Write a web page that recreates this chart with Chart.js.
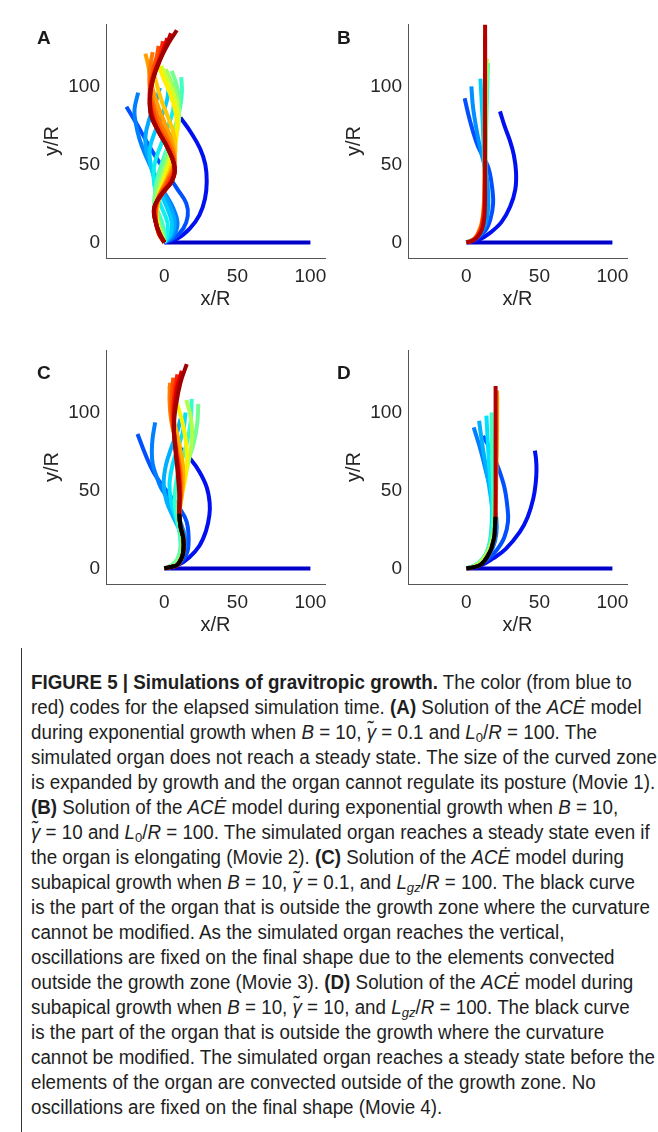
<!DOCTYPE html>
<html><head><meta charset="utf-8">
<script src="https://cdn.jsdelivr.net/npm/chart.js@4.4.1/dist/chart.umd.min.js"></script>
<style>
html,body{margin:0;padding:0;background:#fff;}
body{width:658px;height:1132px;position:relative;overflow:hidden;font-family:"Liberation Sans",Arimo,Arial,sans-serif;color:#1a1a1a;}
.panel{position:absolute;width:345px;height:320px;}
.lbl{position:absolute;font-weight:bold;font-size:19px;line-height:22px;color:#1a1a1a;}
#bar{position:absolute;left:21px;top:648px;width:1px;height:484px;background:#333;}
#cap{position:absolute;left:31px;top:670px;transform-origin:0 0;font-size:19.5px;color:#1e1e1e;}
#cap .ln{height:25px;line-height:25px;white-space:nowrap;}
#cap .ln span{display:inline-block;}
sub{font-size:70%;vertical-align:-0.25em;line-height:0;}
</style>
</head><body>
<div class="panel" style="left:0;top:0"><canvas id="cA" width="345" height="320"></canvas></div>
<div class="panel" style="left:302px;top:0"><canvas id="cB" width="345" height="320"></canvas></div>
<div class="panel" style="left:0;top:326px"><canvas id="cC" width="345" height="320"></canvas></div>
<div class="panel" style="left:302px;top:326px"><canvas id="cD" width="345" height="320"></canvas></div>
<div class="lbl" style="left:37px;top:27px">A</div>
<div class="lbl" style="left:337px;top:27px">B</div>
<div class="lbl" style="left:37px;top:362px">C</div>
<div class="lbl" style="left:337px;top:362px">D</div>
<div id="bar"></div>
<div id="cap">
<div class="ln"><span><b>FIGURE 5 | Simulations of gravitropic growth.</b> The color (from blue to</span></div>
<div class="ln"><span>red) codes for the elapsed simulation time. <b>(A)</b> Solution of the <i>AC&#278;</i> model</span></div>
<div class="ln"><span>during exponential growth when <i>B</i> = 10, <i>&gamma;&#771;</i> = 0.1 and <i>L</i><sub>0</sub>/<i>R</i> = 100. The</span></div>
<div class="ln"><span>simulated organ does not reach a steady state. The size of the curved zone</span></div>
<div class="ln"><span>is expanded by growth and the organ cannot regulate its posture (Movie 1).</span></div>
<div class="ln"><span><b>(B)</b> Solution of the <i>AC&#278;</i> model during exponential growth when <i>B</i> = 10,</span></div>
<div class="ln"><span><i>&gamma;&#771;</i> = 10 and <i>L</i><sub>0</sub>/<i>R</i> = 100. The simulated organ reaches a steady state even if</span></div>
<div class="ln"><span>the organ is elongating (Movie 2). <b>(C)</b> Solution of the <i>AC&#278;</i> model during</span></div>
<div class="ln"><span>subapical growth when <i>B</i> = 10, <i>&gamma;&#771;</i> = 0.1, and <i>L<sub>gz</sub></i>/<i>R</i> = 100. The black curve</span></div>
<div class="ln"><span id="refline">is the part of the organ that is outside the growth zone where the curvature</span></div>
<div class="ln"><span>cannot be modified. As the simulated organ reaches the vertical,</span></div>
<div class="ln"><span>oscillations are fixed on the final shape due to the elements convected</span></div>
<div class="ln"><span>outside the growth zone (Movie 3). <b>(D)</b> Solution of the <i>AC&#278;</i> model during</span></div>
<div class="ln"><span>subapical growth when <i>B</i> = 10, <i>&gamma;&#771;</i> = 10, and <i>L<sub>gz</sub></i>/<i>R</i> = 100. The black curve</span></div>
<div class="ln"><span>is the part of the organ that is outside the growth where the curvature</span></div>
<div class="ln"><span>cannot be modified. The simulated organ reaches a steady state before the</span></div>
<div class="ln"><span>elements of the organ are convected outside of the growth zone. No</span></div>
<div class="ln"><span>oscillations are fixed on the final shape (Movie 4).</span></div>
</div>
<script>
// ---- axes ----
const X_TICKS = [0, 50, 100];
const Y_TICKS = [0, 50, 100];
const X_RANGE = [-40, 110];
const Y_RANGE = [-10, 140];
const X_TITLE = 'x/R';
const Y_TITLE = 'y/R';

// ---- Panel A: exponential growth, gamma = 0.1 ----
const A00 = [[0,0],[100,0]];
const A01 = [[0,0],[9,2.5],[17.5,9],[24,17.5],[27.8,28],[29,39],[28,50],[24.5,60],[18.5,70],[11,80]];
const A02 = [[0,0],[7,3],[13,9],[16,17],[15,25],[9,34],[2,44],[-6,55],[-13,66],[-19,76],[-26,87]];
const A03 = [[0,0],[6,4],[9,12],[6,22],[0,32],[-7,44],[-13,56],[-17,66],[-19.5,76],[-20.5,85],[-18,96]];
const A04 = [[0,0],[5,5],[7,13],[4,23],[-2,34],[-8,46],[-12,57],[-13,68],[-10,80],[-6,90],[-3,99]];
const A05 = [[0,0],[4,5],[5,13],[1,24],[-5,36],[-9,48],[-10,60],[-6,72],[-1,83],[2,92],[3,100]];
const A06 = [[0,0],[2,5],[2,13],[-3,25],[-7,37],[-7,49],[-3,61],[2,73],[6,85],[7,95],[6,103]];
const A07 = [[0,0],[0,6],[-2,14],[-6,24],[-6,36],[-2,50],[3,63],[8,76],[11,88],[12,97],[11.5,106]];
const A08 = [[0,0],[-1,6],[-4,14],[-7,24],[-5,38],[0,52],[5,66],[9,80],[10,92],[8,102],[5,110]];
const A09 = [[0,0],[-2,6],[-5,14],[-6,25],[-3,38],[2,52],[7,66],[10,79],[9,91],[5,102],[1,111]];
const A10 = [[0,0],[-3,6],[-5,14],[-5,26],[-1,40],[4,54],[8,68],[9.5,80],[7,93],[2,104],[-2,113]];
const A11 = [[0,0],[-3,5],[-5,14],[-4,28],[1,43],[6,57],[8.5,70],[8,82],[4,95],[-1,106],[-5,116]];
const A12 = [[0,0],[-3,5],[-5.5,14],[-4,27],[2,42],[7,55],[7,67],[3,79],[-2,91],[-6,104],[-9,117]];
const A13 = [[0,0],[-4,6],[-6,15],[-4,28],[3,42],[7,53],[5,65],[0,77],[-5,89],[-9,102],[-11,113],[-13,121]];
const A14 = [[0,0],[-4,6],[-6,15],[-5,27],[2,40],[7,51],[4,63],[-2,75],[-7,87],[-10,99],[-10,111],[-8,122]];
const A15 = [[0,0],[-4,6],[-6,15],[-5,26],[2,38],[7,49],[3,62],[-4,74],[-8,86],[-10,98],[-8,110],[-5,120],[-4,126]];
const A16 = [[0,0],[-3.5,5],[-6,14],[-6,24],[2,36],[7,48],[2,61],[-5,73],[-9,85],[-10,97],[-7,109],[-3,120],[-1,129]];
const A17 = [[0,0],[-3,5],[-6,13],[-7,22],[-1,32],[5.5,40],[7,48],[2,61],[-4.5,72],[-9,83],[-10,95],[-7,108],[-2,120],[2,131]];
const A18 = [[0,0],[-3,5],[-6,13],[-7,22],[-2,31],[5,39],[7,48],[2,61],[-4,71],[-9,81],[-10,92],[-8,104],[-3,117],[1.5,127],[4.5,134]];
const A19 = [[0,0],[-3,5],[-6,13],[-7,22],[-2,31],[5,39],[7,48],[2,61],[-4,71],[-9,81],[-10,92],[-8,104],[-3,117],[3,128],[8.5,136]];
const panelA = [A00,A01,A02,A03,A04,A05,A06,A07,A08,A09,A10,A11,A12,A13,A14,A15,A16,A17,A18,A19];
const colorsA = ['#0000c8','#0010f0','#0050ff','#0080ff','#00a8ff','#00ccff','#10eeee','#40ffc0','#70ff90','#a0ff60','#d0ff30','#fff000','#ffc800','#ffa000','#ff7800','#ff5000','#ff2800','#e80000','#c00000','#a00000'];

// ---- Panel B: exponential growth, gamma = 10 ----
const B00 = [[0,0],[100,0]];
const B01 = [[0,0],[8,1.5],[16,6],[24,13],[30,23],[33.5,34],[34,45],[32.5,56],[29.5,66],[26,75],[23,84]];
const B02 = [[0,0],[7,2.5],[13,7.5],[16.5,15],[18.3,25],[17.5,36],[14.8,48.6],[8,61.4],[2.3,78.5],[-1.2,92.4]];
const B03 = [[0,0],[7,3],[12,9],[14.5,18],[15,30],[13.5,45],[10,58],[7,72],[4.5,87],[3.4,100]];
const B04 = [[0,0],[6,2.5],[10,8],[12,17],[12.8,35],[12,55],[11,80],[9.6,105]];
const B05 = [[0,0],[6,2.5],[10,8],[12,17],[12.8,35],[13.2,60],[14,90],[14.8,115]];
const B06 = [[0,0],[5,2],[9,7],[11.5,16],[12.5,35],[13,70],[13.5,100],[14,118]];
const B07 = [[0,0],[4.5,1.5],[8,6],[11,15],[12.3,35],[12.6,80],[12.8,125]];
const B08 = [[0,0],[4,1.2],[7.5,4.5],[10.5,11],[12.2,25],[12.7,80],[12.8,132]];
const B09 = [[0,0],[3.5,0.8],[6.9,2.8],[9.5,6],[11,9.2],[12,14],[12.6,20],[12.8,40],[12.8,80],[12.8,139.5]];
const panelB = [B00,B01,B02,B03,B04,B05,B06,B07,B08,B09];
const colorsB = ['#0000c8','#0010f0','#0050ff','#0090ff','#00d0ff','#40ffc0','#c0ff40','#ffa000','#ff3000','#b00000'];

// ---- Panel C: subapical growth, gamma = 0.1 ----
const C00 = [[0,0],[100,0]];
const C01 = [[0,0],[9,2],[17,7],[24,14.5],[28.5,24],[30.8,34],[31,42],[29,52],[24,62],[18,70],[11,77]];
const C02 = [[0,0],[8,2],[14,7],[16.5,15],[15.3,29.8],[10,39],[3.9,46.8],[-2,54],[-7.5,61.7],[-13,73],[-18.4,86.2]];
const C03 = [[0,0],[7,2.5],[12,7],[14,14],[14.1,20.2],[12,27],[9.5,33],[5,39.5],[1.6,45.8],[-2.5,52],[-5.2,58.5],[-8,67],[-8.6,75.5],[-8,84],[-6.3,93.6]];
const C04 = [[0,0],[6,2.5],[10.5,8],[12,16],[10.5,24],[6,33],[1.5,43],[-0.5,54],[1,66],[5,78],[9,88],[11,96]];
const C05 = [[0,0],[6,2.2],[10,7],[11.5,15],[10.5,24],[7.5,33],[4.5,43],[3.5,54],[5.5,66],[9.5,78],[13,89],[14.5,100]];
const C06 = [[0,0],[5,2],[9,6],[11,13],[10.5,22],[8.5,32],[7,43],[8,55],[11.5,68],[15.5,81],[18,94],[18.7,108.6]];
const C07 = [[0,0],[5,2],[9,6],[11.5,13],[11.5,22],[10,32],[9.5,42],[11.5,54],[15.5,67],[20,80],[22.5,93],[23.2,105.4]];
const C08 = [[0,0],[4.5,1],[8.5,2],[11.5,6],[13,11],[13,19],[11,27],[10.2,35],[11.5,47],[14.5,60],[17.5,73],[19,86],[18,97],[15,108]];
const C09 = [[0,0],[4.5,1],[8.5,2],[11.5,6],[13,11],[13,19],[11,27],[10.2,35],[12,47],[14.5,59],[15.5,71],[14.5,83],[12,95],[8.5,106],[5.5,115]];
const C10 = [[0,0],[4.5,1],[8.5,2],[11.5,6],[13,11],[13,19],[11,27],[10.2,35],[12,47],[13,59],[12,71],[9.5,83],[6.5,95],[4.5,106],[3.5,117]];
const C11 = [[0,0],[4.5,1],[8.5,2],[11.5,6],[13,11],[13,19],[11,27],[10.2,35],[11.5,48],[11.5,60],[9.5,72],[7,84],[4.5,96],[3.5,108],[3.9,119]];
const C12 = [[0,0],[4.5,1],[8.5,2],[11.5,6],[13,11],[13,19],[11,27],[10.2,35],[11,48],[10.5,61],[8.5,74],[6.5,87],[5,99],[5,111],[6.1,122.3]];
const C13 = [[0,0],[4.5,1],[8.5,2],[11.5,6],[13,11],[13,19],[11,27],[10.2,35],[10.8,48],[10,61],[8,75],[6.5,88],[6,101],[7,113],[8.9,124.4]];
const C14 = [[0,0],[4.5,1],[8.5,2],[11.5,6],[13,11],[13,19],[11,27],[10.2,35],[10.5,48],[9.5,62],[7.5,77],[6.5,91],[7,105],[9,117],[11.9,126.6]];
const C15 = [[0,0],[4.5,1],[8.5,2],[11.5,6],[13,11],[13,19],[11,27],[10.2,35],[10.2,47],[9,62],[7.5,77],[6.5,91],[8,105],[11,119],[15.3,131]];
const C_BLACK = [[0,0],[4.5,1],[8.5,2],[11.5,6],[13,11],[13,19],[11,27],[10.2,35]];
const panelC = [C00,C01,C02,C03,C04,C05,C06,C07,C08,C09,C10,C11,C12,C13,C14,C15,C_BLACK];
const colorsC = ['#0000c8','#0010f0','#0050ff','#0080ff','#00b0ff','#00e0ff','#30ffd0','#70ff90','#b0ff50','#fff000','#ffb000','#ff8000','#ff5000','#ff2000','#d80000','#a00000','#000000'];

// ---- Panel D: subapical growth, gamma = 10 ----
const D00 = [[0,0],[100,0]];
const D01 = [[0,0],[10,2],[18.3,6.4],[27,12.5],[36.6,23.4],[42,33],[45.8,44.7],[47.5,55],[48,63],[47.7,70],[46.9,75.5]];
const D02 = [[0,0],[8,2],[15,6],[21,12],[26,20],[28.5,30],[28,40],[26,52],[22,64],[17,75],[11.5,85]];
const D03 = [[0,0],[7,2],[13,6],[18,13],[20.5,22],[20.5,32],[18,45],[14,60],[10,75],[5,90.4]];
const D04 = [[0,0],[7,2],[12,6],[16,12],[18,22],[18,35],[16,50],[13,67],[10.5,82],[8.7,94.7]];
const D05 = [[0,0],[6,2],[11,6],[15,13],[17,24],[17.5,38],[16.5,55],[15,75],[13.7,98]];
const D06 = [[0,0],[6,1.8],[11,5.5],[15,12],[17.5,23],[18.5,40],[18,60],[17.5,80],[17.2,100]];
const D07 = [[0,0],[5.5,1.5],[10,4.5],[14,9.5],[17,16],[19,25],[19.8,40],[20.3,70],[21,100],[21.3,110]];
const D08 = [[0,0],[5,0.8],[9.2,2.1],[12.5,5],[14.9,8.5],[17,12.5],[18.3,17],[19.2,21],[19.5,25.5],[19.9,33],[20.5,60],[21,90],[21,114]];
const D09 = [[0,0],[5,0.8],[9.2,2.1],[12.5,5],[14.9,8.5],[17,12.5],[18.3,17],[19.2,21],[19.5,25.5],[19.9,33],[20,60],[20,90],[20,117]];
const D_BLACK = [[0,0],[5,0.8],[9.2,2.1],[12.5,5],[14.9,8.5],[17,12.5],[18.3,17],[19.2,21],[19.5,25.5],[19.9,33]];
const panelD = [D00,D01,D02,D03,D04,D05,D06,D07,D08,D09,D_BLACK];
const colorsD = ['#0000c8','#0010f0','#0050ff','#0080ff','#00b0ff','#00e0ff','#40ffc0','#b0ff50','#ff9000','#b00000','#000000'];

Chart.defaults.font.family = '"Liberation Sans", Arimo, Arial, sans-serif';
Chart.defaults.color = '#262626';

function makeChart(id, curves, colors) {
  const n = curves.length;
  const datasets = curves.map((pts, i) => ({
    data: pts.map(p => ({x: p[0], y: p[1]})),
    borderColor: colors[i],
    backgroundColor: colors[i],
    borderWidth: 4,
    showLine: true,
    pointRadius: 0,
    tension: 0.4,
    fill: false,
    order: n - i
  }));
  return new Chart(document.getElementById(id), {
    type: 'scatter',
    data: {datasets},
    options: {
      responsive: false,
      animation: false,
      events: [],
      layout: {padding: {top: 24, right: 20, bottom: 0, left: 0}},
      plugins: {legend: {display: false}, tooltip: {enabled: false}},
      scales: {
        x: {
          type: 'linear', min: X_RANGE[0], max: X_RANGE[1],
          afterBuildTicks: s => { s.ticks = X_TICKS.map(v => ({value: v})); },
          afterFit: s => { s.height = 62; },
          grid: {display: false, drawTicks: false},
          border: {display: true, color: '#555', width: 1},
          ticks: {padding: 7, font: {size: 19}, color: '#262626'},
          title: {display: true, text: X_TITLE, font: {size: 20}, color: '#262626', padding: {top: 0, bottom: 9}}
        },
        y: {
          type: 'linear', min: Y_RANGE[0], max: Y_RANGE[1],
          afterBuildTicks: s => { s.ticks = Y_TICKS.map(v => ({value: v})); },
          afterFit: s => { s.width = 106; },
          grid: {display: false, drawTicks: false},
          border: {display: true, color: '#555', width: 1},
          ticks: {padding: 6, font: {size: 19}, color: '#262626'},
          title: {display: true, text: Y_TITLE, font: {size: 20}, color: '#262626', padding: {top: 40, bottom: 0}}
        }
      }
    }
  });
}
makeChart('cA', panelA, colorsA);
makeChart('cB', panelB, colorsB);
makeChart('cC', panelC, colorsC);
makeChart('cD', panelD, colorsD);

// fit caption width (condensed look) to the reference line width
(function(){
  const ref = document.getElementById('refline');
  const w = ref.getBoundingClientRect().width;
  const s = 619 / w;
  document.getElementById('cap').style.transform = 'scaleX(' + s.toFixed(4) + ')';
})();
</script>
</body></html>
